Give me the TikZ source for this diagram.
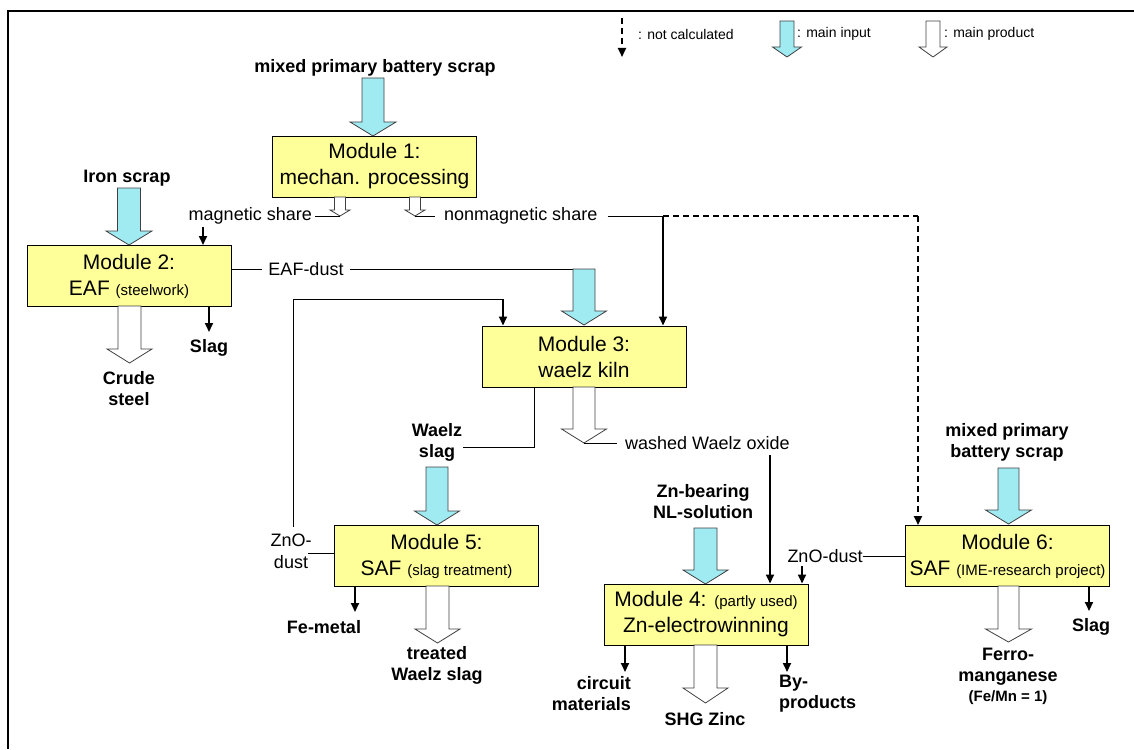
\documentclass[tikz,border=0pt]{standalone}
\usepackage{fontspec}
\setmainfont{Liberation Sans}
\usetikzlibrary{arrows.meta}
\definecolor{incyan}{RGB}{160,234,242}
\definecolor{boxyellow}{RGB}{255,255,153}
\newcommand{\blockarr}[7]{%
  \draw[#1] (#2-#6,#3) -- (#2+#6,#3) -- (#2+#6,#4) -- (#2+#7,#4) -- (#2,#5) -- (#2-#7,#4) -- (#2-#6,#4) -- cycle;}
\begin{document}
\begin{tikzpicture}[x=1pt,y=-1pt,
  modbox/.style={draw=black,line width=1pt,fill=boxyellow,minimum width=204pt,minimum height=61pt,inner sep=0pt,align=center,font=\fontsize{21}{26}\selectfont},
  blab/.style={font=\bfseries\fontsize{18}{21}\selectfont,inner sep=0pt,align=center},
  nlab/.style={font=\fontsize{18}{22}\selectfont,inner sep=0pt,align=center},
  leglab/.style={font=\fontsize{14}{16}\selectfont,inner sep=0pt,anchor=west},
  inarr/.style={fill=incyan,draw=black!75,line width=0.8pt},
  outarr/.style={fill=white,draw=black!75,line width=0.8pt},
  flow/.style={line width=1.8pt,-{Triangle[length=9pt,width=8pt]}},
  conn/.style={line width=0.9pt},
  notcalc/.style={line width=1.8pt,dash pattern=on 6pt off 4pt},
  small/.style={font=\fontsize{15}{17}\selectfont}
]
\useasboundingbox (0,0) rectangle (1134,749);
% frame
\draw[line width=1.4pt] (8,749) -- (8,11) -- (1134,11);

% legend
\draw[notcalc,-{Triangle[length=9pt,width=8pt]}] (622,18) -- (622,57);
\node[leglab] (lg1) at (638,34) {: not calculated};
\blockarr{inarr}{787}{21}{47}{57}{7}{14.5}
\node[leglab] (lg2) at (797,34) {: main input};
\blockarr{outarr}{933}{21}{47}{57}{7}{14}
\node[leglab] (lg3) at (944,34) {: main product};

% modules
\node[modbox] (m1) at (374.5,166.5) {Module 1:\\mechan. processing};
\node[modbox] (m2) at (129,276) {Module 2:\\EAF {\fontsize{15}{17}\selectfont(steelwork)}};
\node[modbox] (m3) at (584,356.5) {Module 3:\\waelz kiln};
\node[modbox] (m5) at (436.5,556) {Module 5:\\SAF {\fontsize{15}{17}\selectfont(slag treatment)}};
\node[modbox] (m4) at (706,614.5) {Module 4: {\fontsize{15}{17}\selectfont(partly used)}\\Zn-electrowinning};
\node[modbox] (m6) at (1007.5,556) {Module 6:\\SAF {\fontsize{15}{17}\selectfont(IME-research project)}};

% Module 1 input
\node[blab] (in1) at (375,68) {mixed primary battery scrap};
\blockarr{inarr}{373}{78}{122}{136}{11}{23}
% Module 1 outputs
\blockarr{outarr}{340}{197}{210}{216}{5.5}{10}
\blockarr{outarr}{415}{197}{210}{216}{5.5}{10}
\node[nlab,anchor=east] (mag) at (312,216) {magnetic share};
\node[nlab,anchor=west] (nonmag) at (444,216) {nonmagnetic share};
\coordinate (magtip) at (340,216);
\coordinate (nmtip) at (415,216);
\draw[conn] (mag.east) ++(3,0) -- (magtip);
\draw[conn] (nmtip) -- ([xshift=-9pt]nonmag.west);
\coordinate (jn) at (663,216);
\coordinate (dcorner) at (918,216);
\draw[conn] ([xshift=10pt]nonmag.east) -- (jn);
\draw[notcalc] (jn) -- (dcorner);
\draw[notcalc,-{Triangle[length=9pt,width=8pt]}] (dcorner) -- (m6.north -| dcorner);
\draw[flow] (jn) -- (m3.north -| jn);

% Module 2
\node[blab] (iron) at (127,178) {Iron scrap};
\blockarr{inarr}{129}{188}{231}{245}{11.5}{23}
\coordinate (magin) at (203,227);
\draw[flow] (magin) -- (m2.north -| magin);
\blockarr{outarr}{129.5}{306}{349}{363}{11.5}{22.5}
\node[blab] (crude) at (129,389) {Crude\\steel};
\coordinate (slag2) at (209,306);
\draw[flow] (slag2) -- (209,332);
\node[blab] (slag2l) at (209,348) {Slag};
\node[nlab] (eafd) at (306,269) {EAF-dust};
\draw[conn] (m2.east |- eafd) -- ([xshift=-6pt]eafd.west);
\draw[conn] ([xshift=6pt]eafd.east) -- (595,269);

% Module 3
\blockarr{inarr}{584}{269}{311}{325}{11}{22.5}
\coordinate (loopc) at (293,299);
\draw[conn] (293,527) -- (loopc) -- (503,299);
\draw[flow] (503,299) -- (m3.north -| 503,0);
\coordinate (wsl) at (534,387);
\draw[conn] (wsl) -- (534,447) -- (463,447);
\node[blab] (waelzslag) at (437,442) {Waelz\\slag};
\blockarr{outarr}{584}{387}{429}{443}{11}{22.5}
\node[nlab,anchor=west] (wwo) at (625,443) {washed Waelz oxide};
\draw[conn] (584,443) -- ([xshift=-8pt]wwo.west);
\coordinate (wwod) at (770,455);
\draw[flow] (wwod) -- (m4.north -| wwod);

% Module 5
\blockarr{inarr}{437}{467}{511}{525}{11}{22.5}
\node[nlab] (zno5) at (291,551) {ZnO-\\dust};
\draw[conn] (308,553) -- (m5.west |- 0,553);
\coordinate (fe) at (355,586);
\draw[flow] (fe) -- (355,612);
\node[blab] (femetal) at (324,627) {Fe-metal};
\blockarr{outarr}{437.5}{586}{629}{643}{11.5}{22.5}
\node[blab] (treated) at (437,665) {treated\\Waelz slag};

% Module 4
\node[blab] (znb) at (703,502) {Zn-bearing\\NL-solution};
\blockarr{inarr}{705.5}{528}{570}{584}{11.5}{22.5}
\node[nlab] (zno6) at (825,556) {ZnO-dust};
\draw[conn] (zno6.east) -- (m6.west |- zno6);
\coordinate (znoin) at (802,566);
\draw[flow] (znoin) -- (m4.north -| znoin);
\coordinate (circ) at (625,645);
\draw[flow] (circ) -- (625,672);
\node[blab,align=right,anchor=east] (circl) at (631,694) {circuit\\materials};
\blockarr{outarr}{705.5}{645}{688}{703}{11.5}{22.5}
\node[blab] (shg) at (705,719) {SHG Zinc};
\coordinate (byp) at (787,645);
\draw[flow] (byp) -- (787,672);
\node[blab,align=left,anchor=west] (bypl) at (779,694) {By-\\products};

% Module 6
\node[blab] (in6) at (1007,442) {mixed primary\\battery scrap};
\blockarr{inarr}{1008.5}{468}{510}{524}{10.5}{23}
\blockarr{outarr}{1008.5}{586}{629}{642}{10.5}{23}
\node[blab] (ferro) at (1008,667) {Ferro-\\manganese};
\node[font=\bfseries\fontsize{15}{17}\selectfont,inner sep=0pt] (femn) at (1008,698) {(Fe/Mn = 1)};
\coordinate (slag6) at (1089,586);
\draw[flow] (slag6) -- (1089,611);
\node[blab] (slag6l) at (1091,627) {Slag};
\end{tikzpicture}
\end{document}
